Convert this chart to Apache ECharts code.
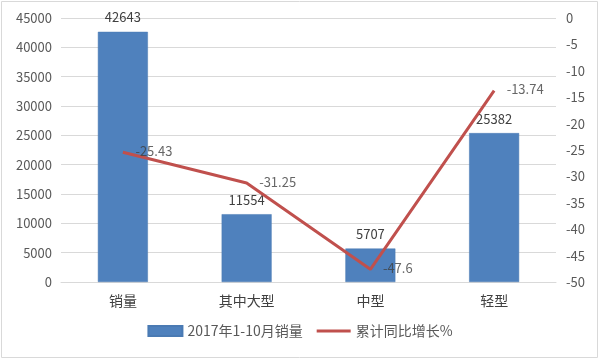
<!DOCTYPE html>
<html><head><meta charset="utf-8">
<script src="https://cdn.jsdelivr.net/npm/echarts@6/dist/echarts.min.js"></script>
<style>html,body{margin:0;padding:0;background:#fff}#c{width:600px;height:361px}</style>
</head><body><div id="c"></div>
<script>
var categories = ['销量', '其中大型', '中型', '轻型'];
var salesValues = [42643, 11554, 5707, 25382];
var growthValues = [-25.43, -31.25, -47.6, -13.74];
var salesName = '2017年1-10月销量';
var growthName = '累计同比增长%';

var font = '"Noto Sans CJK SC", "Microsoft YaHei", sans-serif';
var chart = echarts.init(document.getElementById('c'));
chart.setOption({
  animation: false,
  textStyle: {fontFamily: font},
  graphic: [{type: 'rect', shape: {x: 1.5, y: 1.5, width: 596, height: 356}, style: {fill: 'none', stroke: '#d9d9d9', lineWidth: 1}, silent: true}],
  grid: {left: 61, right: 44, top: 18, bottom: 79},
  legend: {
    bottom: 18, left: 'center', itemWidth: 34, itemHeight: 10, itemGap: 14,
    symbolKeepAspect: true,
    textStyle: {color: '#595959', fontSize: 14, fontFamily: font},
    data: [{name: salesName, icon: 'rect'}, {name: growthName, icon: 'path://M0,0 L34,0 L34,3 L0,3 Z', itemStyle: {color: '#C0504D'}}]
  },
  xAxis: {
    type: 'category', data: categories,
    axisLine: {lineStyle: {color: '#d9d9d9'}}, axisTick: {show: false},
    axisLabel: {color: '#404040', fontSize: 14, margin: 12, fontFamily: font}
  },
  yAxis: [{
    type: 'value', min: 0, max: 45000, interval: 5000,
    axisLine: {show: false}, axisTick: {show: false},
    splitLine: {lineStyle: {color: '#d9d9d9'}},
    axisLabel: {color: '#595959', fontSize: 13, margin: 9, fontFamily: font, formatter: function (v) { return String(v); }}
  }, {
    type: 'value', min: -50, max: 0, interval: 5,
    axisLine: {show: false}, axisTick: {show: false}, splitLine: {show: false},
    axisLabel: {color: '#595959', fontSize: 13, margin: 10, fontFamily: font}
  }],
  series: [{
    name: salesName, type: 'bar', data: salesValues, barWidth: 50,
    itemStyle: {color: '#4F81BD', borderColor: '#4a7ab3', borderWidth: 0.5},
    label: {show: true, position: 'top', color: '#404040', fontSize: 13, distance: 8, fontFamily: font}
  }, {
    name: growthName, type: 'line', yAxisIndex: 1, data: growthValues,
    symbol: 'none', lineStyle: {color: '#C0504D', width: 3}, itemStyle: {color: '#C0504D'}
  }, {
    name: 'growthLabels', type: 'scatter', yAxisIndex: 1, data: growthValues,
    symbolSize: 1, itemStyle: {color: 'rgba(0,0,0,0)'}, silent: true, z: 5,
    label: {show: true, position: 'right', color: '#404040', fontSize: 13, distance: 12, offset: [0, -1], fontFamily: font}
  }]
});
</script></body></html>
